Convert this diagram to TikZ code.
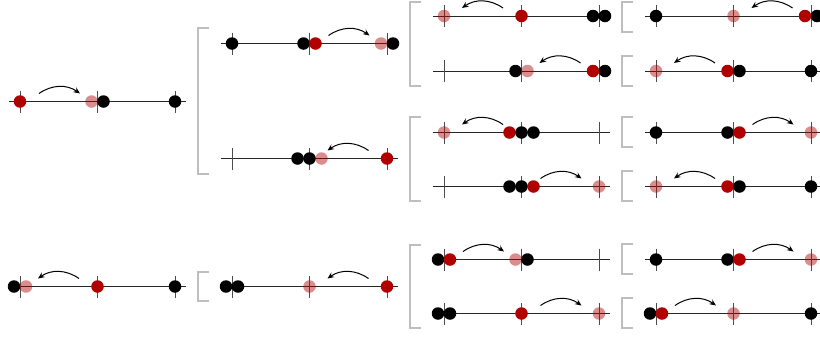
\documentclass[tikz,border=0pt]{standalone}
\usetikzlibrary{arrows.meta}
\definecolor{dotred}{RGB}{176,0,0}
\definecolor{brkgray}{RGB}{190,190,190}
\tikzset{
  axisline/.style={line width=1bp, black!85},
  tickmark/.style={line width=1bp, black!70},
  bdot/.style={circle, fill=black, inner sep=0pt, minimum size=12.5bp, draw=none},
  rdot/.style={circle, fill=dotred, inner sep=0pt, minimum size=12.5bp, draw=none},
  pdot/.style={circle, fill=dotred, fill opacity=0.45, inner sep=0pt, minimum size=12.5bp, draw=none},
  arr/.style={line width=1bp, -{Stealth[length=6.5bp,width=5.5bp]}},
  brk/.style={line width=1.2bp, brkgray},
}
% #1 name, #2 x0, #3 y
\newcommand\numline[3]{%
  \coordinate (#1A) at (#2,#3);
  \coordinate (#1B) at (#2+77.5,#3);
  \coordinate (#1C) at (#2+155,#3);
  \draw[axisline] (#2-11,#3) -- (#2+166,#3);
  \draw[tickmark] (#2,#3-11) -- (#2,#3+11);
  \draw[tickmark] (#2+77.5,#3-11) -- (#2+77.5,#3+11);
  \draw[tickmark] (#2+155,#3-11) -- (#2+155,#3+11);
}
% #1 style, #2 name, #3 x, #4 y
\newcommand\dotn[4]{\node[#1] (#2) at (#3,#4) {};}
% #1 name, #2 segment start x, #3 y
\newcommand\arrright[3]{%
  \coordinate (#1s) at (#2+19,#3-8);
  \coordinate (#1e) at (#2+60,#3-8);
  \draw[arr] (#1s) to[bend left=35] (#1e);}
\newcommand\arrleft[3]{%
  \coordinate (#1s) at (#2+59,#3-8);
  \coordinate (#1e) at (#2+18,#3-8);
  \draw[arr] (#1s) to[bend right=35] (#1e);}
\begin{document}
\begin{tikzpicture}[x=1bp,y=-1bp]
\useasboundingbox (0,0) rectangle (820,337);
\clip (0,0) rectangle (820,337);

% ---------- brackets ----------
\draw[brk] (209,28) -- (198,28) -- (198,174) -- (209,174);
\draw[brk] (209,272) -- (198,272) -- (198,301) -- (209,301);
\draw[brk] (421,2) -- (410,2) -- (410,86) -- (421,86);
\draw[brk] (421,117) -- (410,117) -- (410,201) -- (421,201);
\draw[brk] (421,245) -- (410,245) -- (410,328) -- (421,328);
\draw[brk] (633,2) -- (622,2) -- (622,32) -- (633,32);
\draw[brk] (633,56) -- (622,56) -- (622,86) -- (633,86);
\draw[brk] (633,117) -- (622,117) -- (622,147) -- (633,147);
\draw[brk] (633,171) -- (622,171) -- (622,201) -- (633,201);
\draw[brk] (633,244) -- (622,244) -- (622,274) -- (633,274);
\draw[brk] (633,298) -- (622,298) -- (622,328) -- (633,328);

% ---------- column 1 ----------
\numline{p1}{20}{101.5}
\dotn{rdot}{p1a}{20}{101.5}
\dotn{pdot}{p1b}{91.5}{101.5}
\dotn{bdot}{p1c}{103.5}{101.5}
\dotn{bdot}{p1d}{175}{101.5}
\arrright{p1arr}{20}{101.5}

\numline{p2}{20}{286.5}
\dotn{bdot}{p2a}{14}{286.5}
\dotn{pdot}{p2b}{26}{286.5}
\dotn{rdot}{p2c}{97.5}{286.5}
\dotn{bdot}{p2d}{175}{286.5}
\arrleft{p2arr}{20}{286.5}

% ---------- column 2 ----------
\numline{q1}{232}{43.5}
\dotn{bdot}{q1a}{232}{43.5}
\dotn{bdot}{q1b}{303.5}{43.5}
\dotn{rdot}{q1c}{315.5}{43.5}
\dotn{pdot}{q1d}{381}{43.5}
\dotn{bdot}{q1e}{393}{43.5}
\arrright{q1arr}{309.5}{43.5}

\numline{q2}{232}{158.5}
\dotn{bdot}{q2a}{297.5}{158.5}
\dotn{bdot}{q2b}{309.5}{158.5}
\dotn{pdot}{q2c}{321.5}{158.5}
\dotn{rdot}{q2d}{387}{158.5}
\arrleft{q2arr}{309.5}{158.5}

\numline{q3}{232}{286.5}
\dotn{bdot}{q3a}{226}{286.5}
\dotn{bdot}{q3b}{238}{286.5}
\dotn{pdot}{q3c}{309.5}{286.5}
\dotn{rdot}{q3d}{387}{286.5}
\arrleft{q3arr}{309.5}{286.5}

% ---------- column 3 ----------
\numline{r1}{444}{16}
\dotn{pdot}{r1a}{444}{16}
\dotn{rdot}{r1b}{521.5}{16}
\dotn{bdot}{r1c}{593}{16}
\dotn{bdot}{r1d}{605}{16}
\arrleft{r1arr}{444}{16}

\numline{r2}{444}{71}
\dotn{bdot}{r2a}{515.5}{71}
\dotn{pdot}{r2b}{527.5}{71}
\dotn{rdot}{r2c}{593}{71}
\dotn{bdot}{r2d}{605}{71}
\arrleft{r2arr}{521.5}{71}

\numline{r3}{444}{132.5}
\dotn{pdot}{r3a}{444}{132.5}
\dotn{rdot}{r3b}{509.5}{132.5}
\dotn{bdot}{r3c}{521.5}{132.5}
\dotn{bdot}{r3d}{533.5}{132.5}
\arrleft{r3arr}{444}{132.5}

\numline{r4}{444}{186.5}
\dotn{bdot}{r4a}{509.5}{186.5}
\dotn{bdot}{r4b}{521.5}{186.5}
\dotn{rdot}{r4c}{533.5}{186.5}
\dotn{pdot}{r4d}{599}{186.5}
\arrright{r4arr}{521.5}{186.5}

\numline{r5}{444}{259.5}
\dotn{bdot}{r5a}{438}{259.5}
\dotn{rdot}{r5b}{450}{259.5}
\dotn{pdot}{r5c}{515.5}{259.5}
\dotn{bdot}{r5d}{527.5}{259.5}
\arrright{r5arr}{444}{259.5}

\numline{r6}{444}{313.5}
\dotn{bdot}{r6a}{438}{313.5}
\dotn{bdot}{r6b}{450}{313.5}
\dotn{rdot}{r6c}{521.5}{313.5}
\dotn{pdot}{r6d}{599}{313.5}
\arrright{r6arr}{521.5}{313.5}

% ---------- column 4 ----------
\numline{s1}{656}{16}
\dotn{bdot}{s1a}{656}{16}
\dotn{pdot}{s1b}{733.5}{16}
\dotn{rdot}{s1c}{805}{16}
\dotn{bdot}{s1d}{817}{16}
\arrleft{s1arr}{733.5}{16}

\numline{s2}{656}{71}
\dotn{pdot}{s2a}{656}{71}
\dotn{rdot}{s2b}{727.5}{71}
\dotn{bdot}{s2c}{739.5}{71}
\dotn{bdot}{s2d}{811}{71}
\arrleft{s2arr}{656}{71}

\numline{s3}{656}{132.5}
\dotn{bdot}{s3a}{656}{132.5}
\dotn{bdot}{s3b}{727.5}{132.5}
\dotn{rdot}{s3c}{739.5}{132.5}
\dotn{pdot}{s3d}{811}{132.5}
\arrright{s3arr}{733.5}{132.5}

\numline{s4}{656}{186.5}
\dotn{pdot}{s4a}{656}{186.5}
\dotn{rdot}{s4b}{727.5}{186.5}
\dotn{bdot}{s4c}{739.5}{186.5}
\dotn{bdot}{s4d}{811}{186.5}
\arrleft{s4arr}{656}{186.5}

\numline{s5}{656}{259.5}
\dotn{bdot}{s5a}{656}{259.5}
\dotn{bdot}{s5b}{727.5}{259.5}
\dotn{rdot}{s5c}{739.5}{259.5}
\dotn{pdot}{s5d}{811}{259.5}
\arrright{s5arr}{733.5}{259.5}

\numline{s6}{656}{313.5}
\dotn{bdot}{s6a}{650}{313.5}
\dotn{rdot}{s6b}{662}{313.5}
\dotn{pdot}{s6c}{733.5}{313.5}
\dotn{bdot}{s6d}{811}{313.5}
\arrright{s6arr}{656}{313.5}
\end{tikzpicture}
\end{document}
